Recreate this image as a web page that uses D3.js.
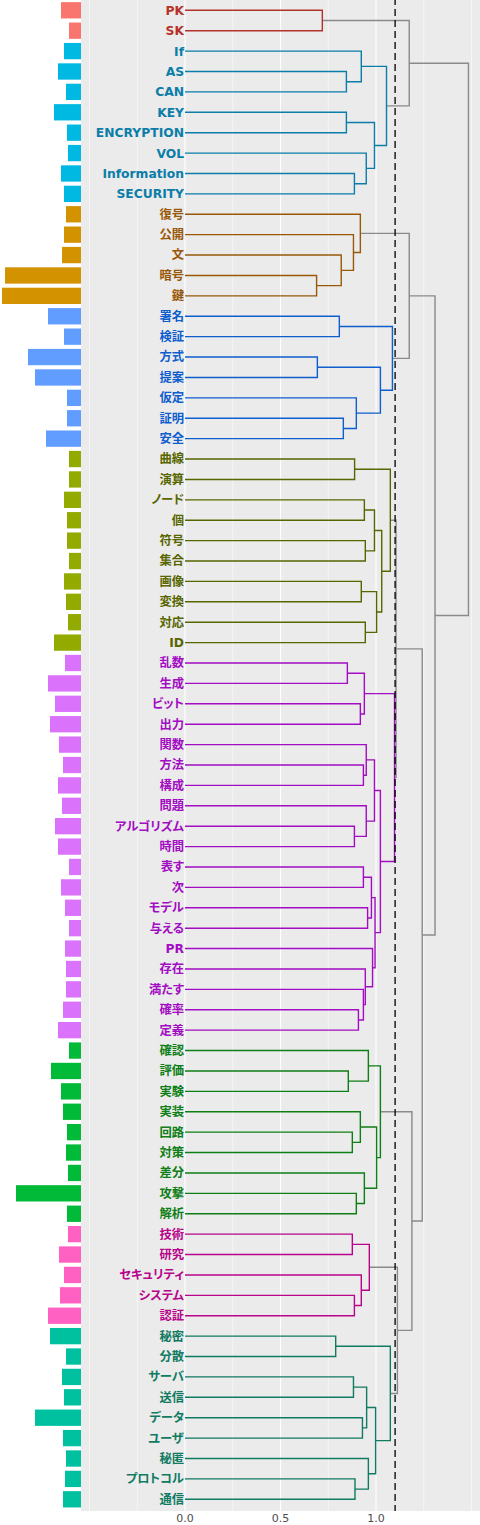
<!DOCTYPE html>
<html><head><meta charset="utf-8">
<script src="https://cdn.jsdelivr.net/npm/d3@7"></script>
<style>
body{margin:0;background:#fff}
svg{display:block}
.lbl{font-family:"DejaVu Sans","Noto Sans CJK JP",sans-serif;font-weight:bold;font-size:12.3px;font-feature-settings:"palt";}
.ax{font-family:"DejaVu Sans",sans-serif;font-size:11px;fill:#4D4D4D}
</style>
</head><body>
<svg id="c" width="480" height="1525"></svg>
<script>
// ---- data ----
const labels = ["PK","SK","If","AS","CAN","KEY","ENCRYPTION","VOL","Information","SECURITY",
"復号","公開","文","暗号","鍵",
"署名","検証","方式","提案","仮定","証明","安全",
"曲線","演算","ノード","個","符号","集合","画像","変換","対応","ID",
"乱数","生成","ビット","出力","関数","方法","構成","問題","アルゴリズム","時間","表す","次","モデル","与える","PR","存在","満たす","確率","定義",
"確認","評価","実験","実装","回路","対策","差分","攻撃","解析",
"技術","研究","セキュリティ","システム","認証",
"秘密","分散","サーバ","送信","データ","ユーザ","秘匿","プロトコル","通信"];
const clusters = [1,1, 2,2,2,2,2,2,2,2, 3,3,3,3,3, 4,4,4,4,4,4,4,
5,5,5,5,5,5,5,5,5,5,
6,6,6,6,6,6,6,6,6,6,6,6,6,6,6,6,6,6,6,
7,7,7,7,7,7,7,7,7, 8,8,8,8,8, 9,9,9,9,9,9,9,9,9];
const freq = [20,12,17,23,15,27,14,13,20,17,
15,17,19,76,79,
33,17,53,46,14,14,35,
12,12,17,14,14,12,17,15,13,27,
16,33,26,31,22,18,23,19,26,23,12,20,16,12,16,15,15,18,23,
12,30,20,18,14,15,13,65,14,
13,22,17,21,33,
31,15,19,17,46,18,15,16,18];
// hclust-style merges: negative = leaf (1-based display order), positive = earlier merge
const merges = [
[-1,-2],[-4,-5],[-3,2],[-6,-7],[-9,-10],[-8,5],[4,6],[3,7],[1,8],
[-14,-15],[-13,10],[-12,11],[-11,12],
[-16,-17],[-18,-19],[-21,-22],[-20,16],[15,17],[14,18],[13,19],
[-23,-24],[-25,-26],[-27,-28],[22,23],[-29,-30],[-31,-32],[25,26],[24,27],[21,28],
[-33,-34],[-35,-36],[30,31],[-38,-39],[-37,33],[-41,-42],[-40,35],[34,36],
[-43,-44],[-45,-46],[38,39],[-50,-51],[-49,41],[-48,42],[-47,43],[40,44],[37,45],[32,46],
[29,47],
[-53,-54],[-52,49],[-56,-57],[-55,51],[-59,-60],[-58,53],[52,54],[50,55],
[-61,-62],[-64,-65],[-63,58],[57,59],
[-66,-67],[-68,-69],[-70,-71],[62,63],[-73,-74],[-72,65],[64,66],[61,67],
[60,68],[56,69],[48,70],[20,71],[9,72]];
const heights = [
0.719,0.845,0.923,0.845,0.887,0.949,0.992,1.055,1.174,
0.689,0.818,0.882,0.918,
0.808,0.693,0.829,0.897,1.023,1.086,1.174,
0.888,0.939,0.944,0.992,0.923,0.944,1.003,1.030,1.075,
0.850,0.918,0.939,0.934,0.949,0.887,0.949,0.992,
0.934,0.956,0.976,0.908,0.934,0.944,0.982,0.995,1.023,1.097,
1.105,
0.855,0.960,0.876,0.918,0.897,0.939,1.003,1.023,
0.876,0.887,0.923,0.965,
0.789,0.882,0.929,0.951,0.890,0.960,0.998,1.075,
1.112,1.188,1.242,1.309,1.484];
const cutHeight = 1.1;
const xTicks = [0, 0.5, 1.0];
const xTickLabels = ["0.0","0.5","1.0"];
const xMinor = [-0.5,-0.25,0.25,0.75,1.25,1.5];
const barColors = ["#F8766D","#00B9E3","#D39200","#619CFF","#93AA00","#DB72FB","#00BA38","#FF61C3","#00C19F"];
const lineColors = ["#B5322A","#0A7DA8","#985808","#0F5ECF","#586600","#A20CC2","#0E7E16","#B8048A","#107A62"];
const grayColor = "#8A8A8A";

// ---- layout ----
const svg = d3.select("#c");
const panel = {left:81, right:480, top:-2, bottom:1511};
const x = d3.scaleLinear().domain([0,1]).range([185,376]);
const y = d3.scaleLinear().domain([0,labels.length-1]).range([10.3,1499.3]);
const step = y(1)-y(0);
const xb = d3.scaleLinear().domain([0,80]).range([81,1]);

// panel bg
svg.append("rect").attr("x",panel.left).attr("y",panel.top)
  .attr("width",panel.right-panel.left).attr("height",panel.bottom-panel.top).attr("fill","#EBEBEB");
// grid
svg.append("g").selectAll("line").data(xMinor).join("line")
  .attr("x1",d=>x(d)).attr("x2",d=>x(d)).attr("y1",panel.top).attr("y2",panel.bottom)
  .attr("stroke","#fff").attr("stroke-width",0.55);
svg.append("g").selectAll("line").data(xTicks).join("line")
  .attr("x1",d=>x(d)).attr("x2",d=>x(d)).attr("y1",panel.top).attr("y2",panel.bottom)
  .attr("stroke","#fff").attr("stroke-width",1.1);

// bars
svg.append("g").selectAll("rect").data(freq).join("rect")
  .attr("x",d=>xb(d)).attr("width",d=>xb(0)-xb(d))
  .attr("y",(d,i)=>y(i)-step*0.4).attr("height",step*0.8)
  .attr("fill",(d,i)=>barColors[clusters[i]-1]);

// dendrogram
const nodeInfo = [];
function info(ref){
  if(ref<0){const i=-ref-1; return {y:y(i), h:0, cl:clusters[i]};}
  return nodeInfo[ref-1];
}
merges.forEach((m,i)=>{
  const a=info(m[0]), b=info(m[1]), h=heights[i];
  const cl = (a.cl && a.cl===b.cl && h<cutHeight) ? a.cl : null;
  nodeInfo.push({y:(a.y+b.y)/2, h, cl, a, b});
});
const linkG = svg.append("g").attr("fill","none").attr("stroke-width",1.4);
const ordered = nodeInfo.slice().sort((p,q)=>(p.cl?1:0)-(q.cl?1:0));
linkG.selectAll("path").data(ordered).join("path")
  .attr("d",n=>`M${x(n.a.h)},${n.a.y}H${x(n.h)}V${n.b.y}H${x(n.b.h)}`)
  .attr("stroke",n=>n.cl?lineColors[n.cl-1]:grayColor);

// labels
svg.append("g").selectAll("text").data(labels).join("text")
  .attr("class","lbl").attr("x",x(0)-1).attr("y",(d,i)=>y(i))
  .attr("dy","0.36em").attr("text-anchor","end")
  .attr("fill",(d,i)=>lineColors[clusters[i]-1]).text(d=>d);

// cut line
svg.append("line").attr("x1",x(cutHeight)).attr("x2",x(cutHeight))
  .attr("y1",panel.top).attr("y2",panel.bottom)
  .attr("stroke","#000").attr("stroke-width",1.3).attr("stroke-dasharray","7,4");

// x axis labels
svg.append("g").selectAll("text").data(xTicks).join("text")
  .attr("class","ax").attr("x",d=>x(d)).attr("y",1522).attr("text-anchor","middle")
  .text((d,i)=>xTickLabels[i]);
</script>
</body></html>
